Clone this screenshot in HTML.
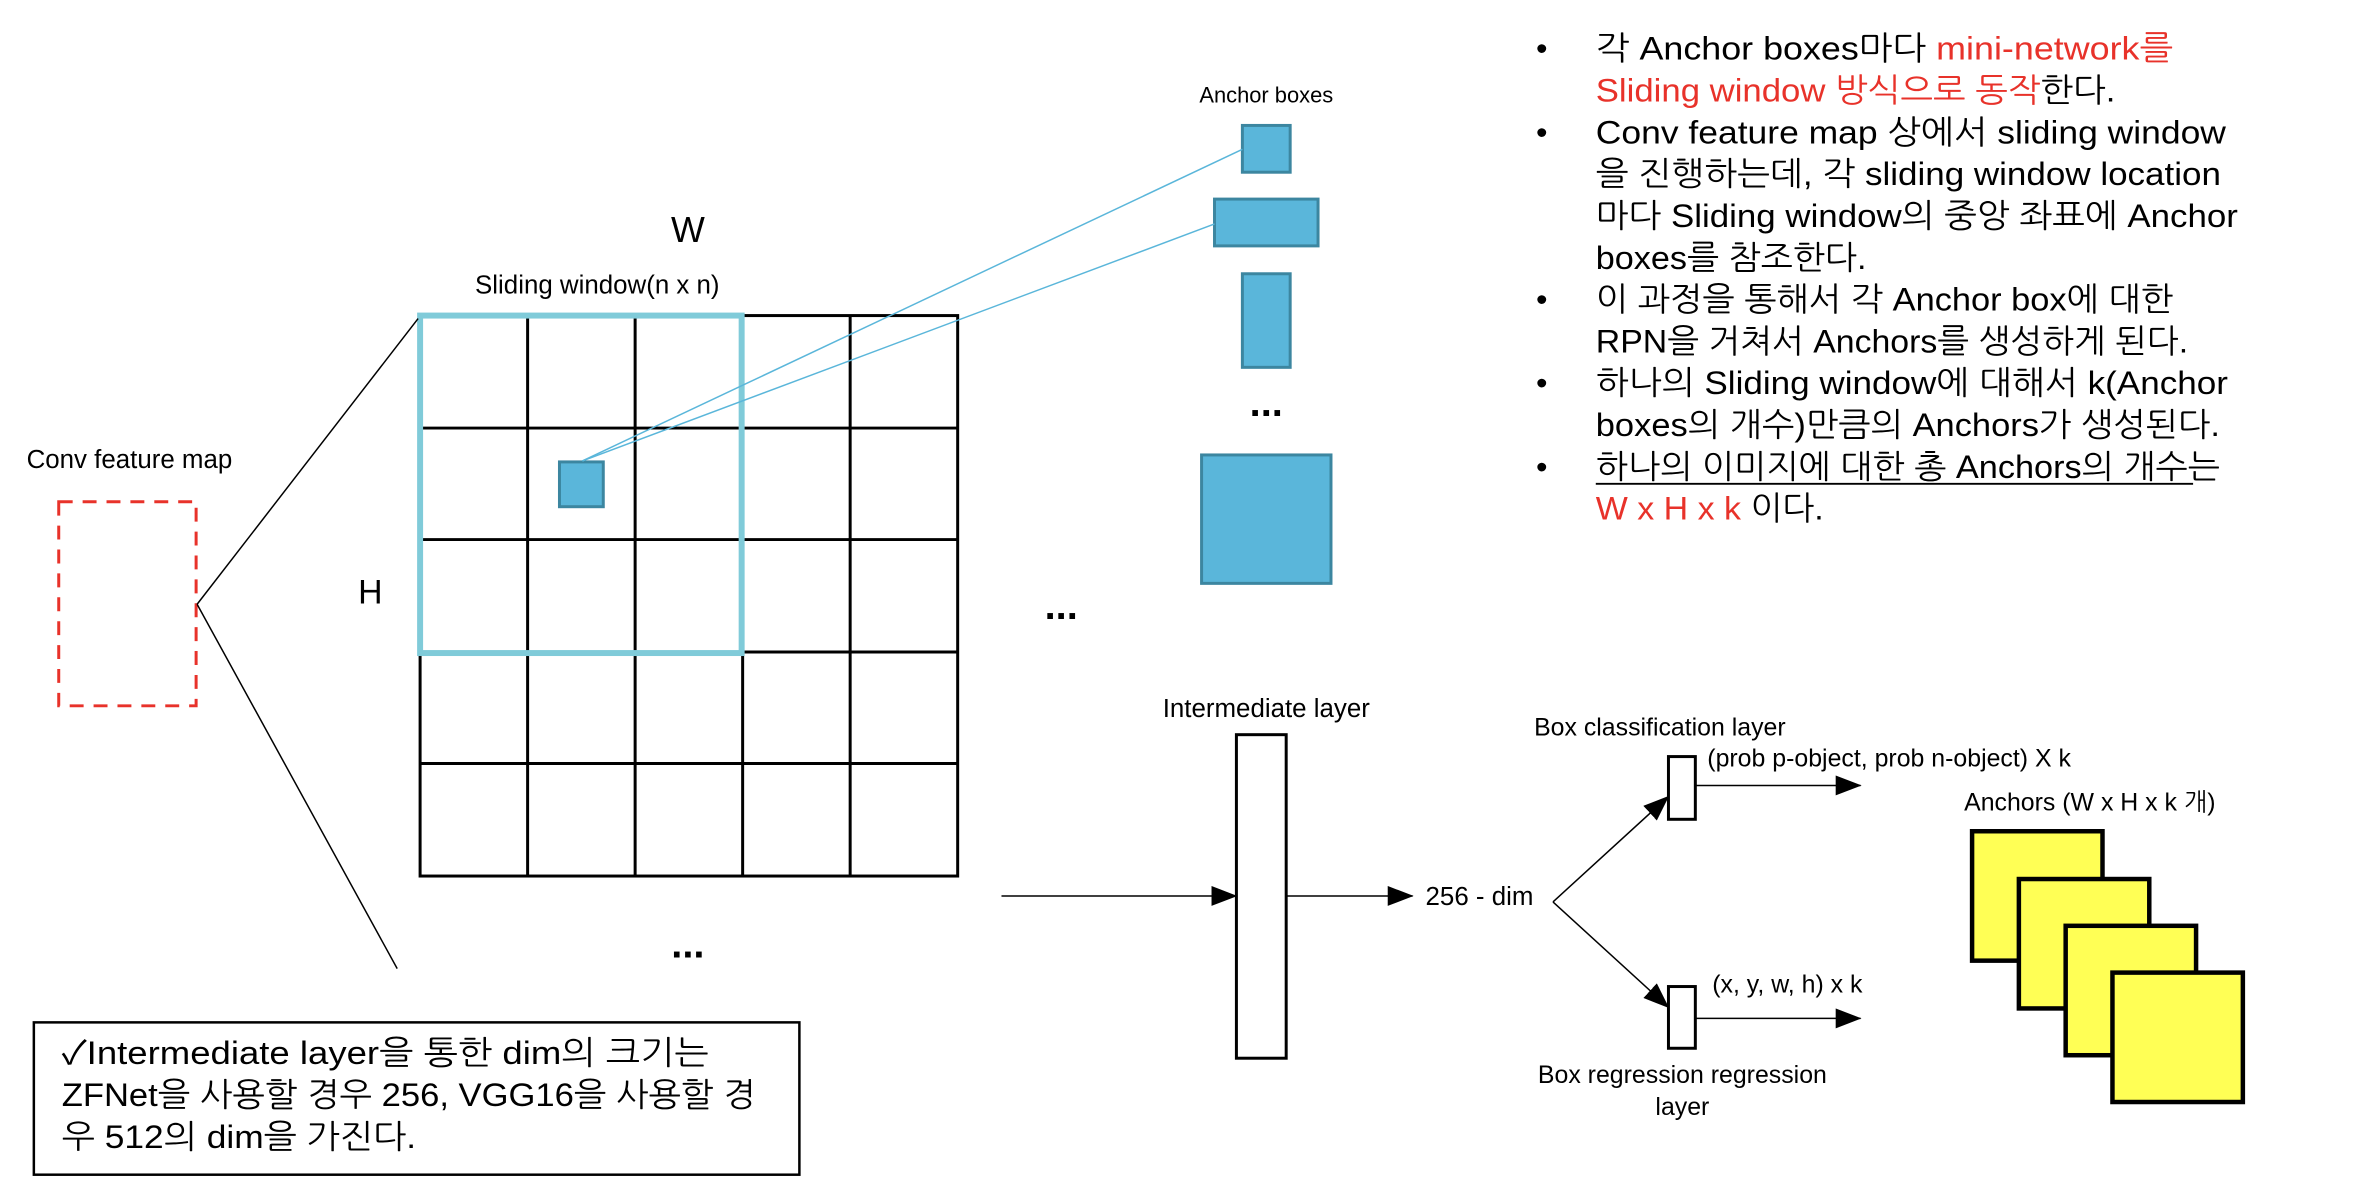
<!DOCTYPE html>
<html><head><meta charset="utf-8"><style>
html,body{margin:0;padding:0;background:#fff;}
svg{display:block;}
text{font-family:"Liberation Sans","NanumGothic","Noto Sans CJK KR",sans-serif;}
</style></head><body>
<svg width="2368" height="1186" viewBox="0 0 2368 1186" xmlns="http://www.w3.org/2000/svg">
<defs>
<marker id="ah" markerWidth="26" markerHeight="20" refX="25" refY="10" orient="auto" markerUnits="userSpaceOnUse" viewBox="0 0 26 20">
<path d="M0,0 L26,10 L0,20 z" fill="#000"/></marker>
</defs>
<g transform="scale(0.9955)">
<!-- bullet text -->
<g font-size="33" fill="#000">
<text x="1543" y="60">•</text>
<text x="1603" y="60" textLength="580" lengthAdjust="spacingAndGlyphs">각 Anchor boxes마다 <tspan fill="#e8322a">mini-network를</tspan></text>
<text x="1603" y="102" textLength="522" lengthAdjust="spacingAndGlyphs"><tspan fill="#e8322a">Sliding window 방식으로 동작</tspan>한다.</text>
<text x="1543" y="144">•</text>
<text x="1603" y="144" textLength="633" lengthAdjust="spacingAndGlyphs">Conv feature map 상에서 sliding window</text>
<text x="1603" y="186" textLength="628" lengthAdjust="spacingAndGlyphs">을 진행하는데, 각 sliding window location</text>
<text x="1603" y="228" textLength="645" lengthAdjust="spacingAndGlyphs">마다 Sliding window의 중앙 좌표에 Anchor</text>
<text x="1603" y="270" textLength="272" lengthAdjust="spacingAndGlyphs">boxes를 참조한다.</text>
<text x="1543" y="312">•</text>
<text x="1603" y="312" textLength="580" lengthAdjust="spacingAndGlyphs">이 과정을 통해서 각 Anchor box에 대한</text>
<text x="1603" y="354" textLength="595" lengthAdjust="spacingAndGlyphs">RPN을 거쳐서 Anchors를 생성하게 된다.</text>
<text x="1543" y="396">•</text>
<text x="1603" y="396" textLength="635" lengthAdjust="spacingAndGlyphs">하나의 Sliding window에 대해서 k(Anchor</text>
<text x="1603" y="438" textLength="627" lengthAdjust="spacingAndGlyphs">boxes의 개수)만큼의 Anchors가 생성된다.</text>
<text x="1543" y="480">•</text>
<text x="1603" y="480" textLength="627" lengthAdjust="spacingAndGlyphs">하나의 이미지에 대한 총 Anchors의 개수는</text>
<line x1="1603" y1="486" x2="2203" y2="486" stroke="#000" stroke-width="2"/>
<text x="1603" y="522" textLength="229" lengthAdjust="spacingAndGlyphs"><tspan fill="#e8322a">W x H x k</tspan> 이다.</text>
</g>

<!-- anchor boxes -->
<text x="1272" y="103" font-size="22" text-anchor="middle">Anchor boxes</text>
<g fill="#5ab6da" stroke="#3c86a0" stroke-width="3">
<rect x="1248" y="126" width="48" height="47"/>
<rect x="1220" y="200" width="104" height="47"/>
<rect x="1248" y="275" width="48" height="94"/>
<rect x="1207" y="457" width="130" height="129"/>
</g>
<text x="1272" y="418" font-size="40" font-weight="bold" text-anchor="middle">...</text>

<!-- grid -->
<g stroke="#000" stroke-width="3" fill="none">
<rect x="422" y="317" width="540" height="563"/>
<line x1="530" y1="317" x2="530" y2="880"/>
<line x1="638" y1="317" x2="638" y2="880"/>
<line x1="746" y1="317" x2="746" y2="880"/>
<line x1="854" y1="317" x2="854" y2="880"/>
<line x1="422" y1="430" x2="962" y2="430"/>
<line x1="422" y1="542" x2="962" y2="542"/>
<line x1="422" y1="655" x2="962" y2="655"/>
<line x1="422" y1="767" x2="962" y2="767"/>
</g>
<rect x="422" y="317" width="323" height="339" fill="none" stroke="#80cbd9" stroke-width="6"/>
<rect x="562" y="464" width="44" height="45" fill="#5ab6da" stroke="#3c86a0" stroke-width="3"/>
<line x1="585" y1="463" x2="1248" y2="150" stroke="#5ab6da" stroke-width="1.5"/>
<line x1="585" y1="463" x2="1220" y2="225" stroke="#5ab6da" stroke-width="1.5"/>
<text x="691" y="243" font-size="36" text-anchor="middle">W</text>
<text x="600" y="295" font-size="26" text-anchor="middle">Sliding window(n x n)</text>
<text x="372" y="606" font-size="34" text-anchor="middle">H</text>
<text x="1066" y="622" font-size="40" font-weight="bold" text-anchor="middle">...</text>
<text x="691" y="962" font-size="40" font-weight="bold" text-anchor="middle">...</text>

<!-- conv feature map -->
<text x="130" y="470" font-size="26" text-anchor="middle">Conv feature map</text>
<rect x="59" y="504" width="138" height="205" fill="none" stroke="#e8322a" stroke-width="3" stroke-dasharray="14,10"/>
<line x1="198" y1="607" x2="420" y2="320" stroke="#000" stroke-width="1.5"/>
<line x1="198" y1="607" x2="399" y2="973" stroke="#000" stroke-width="1.5"/>

<!-- note -->
<rect x="34" y="1027" width="769" height="153" fill="none" stroke="#000" stroke-width="2.5"/>
<g font-size="33">
<text x="62" y="1069" textLength="650" lengthAdjust="spacingAndGlyphs">✓Intermediate layer을 통한 dim의 크기는</text>
<text x="62" y="1111" textLength="697" lengthAdjust="spacingAndGlyphs">ZFNet을 사용할 경우 256, VGG16을 사용할 경</text>
<text x="62" y="1153" textLength="356" lengthAdjust="spacingAndGlyphs">우 512의 dim을 가진다.</text>
</g>

<!-- intermediate -->
<line x1="1006" y1="900" x2="1242" y2="900" stroke="#000" stroke-width="1.5" marker-end="url(#ah)"/>
<rect x="1242" y="738" width="50" height="325" fill="#fff" stroke="#000" stroke-width="3"/>
<text x="1272" y="720" font-size="26" text-anchor="middle">Intermediate layer</text>
<line x1="1292" y1="900" x2="1419" y2="900" stroke="#000" stroke-width="1.5" marker-end="url(#ah)"/>
<text x="1432" y="909" font-size="26">256 - dim</text>
<line x1="1560" y1="906" x2="1676" y2="800" stroke="#000" stroke-width="1.5" marker-end="url(#ah)"/>
<line x1="1560" y1="906" x2="1676" y2="1012" stroke="#000" stroke-width="1.5" marker-end="url(#ah)"/>
<rect x="1676" y="760" width="27" height="63" fill="#fff" stroke="#000" stroke-width="3"/>
<rect x="1676" y="991" width="27" height="62" fill="#fff" stroke="#000" stroke-width="3"/>
<line x1="1703" y1="789" x2="1869" y2="789" stroke="#000" stroke-width="1.5" marker-end="url(#ah)"/>
<line x1="1703" y1="1023" x2="1869" y2="1023" stroke="#000" stroke-width="1.5" marker-end="url(#ah)"/>
<text x="1541" y="739" font-size="25">Box classification  layer</text>
<text x="1715" y="770" font-size="25">(prob p-object, prob n-object) X k</text>
<text x="1720" y="997" font-size="25">(x, y, w, h) x k</text>
<text x="1690" y="1088" font-size="25" text-anchor="middle">Box regression regression</text>
<text x="1690" y="1120" font-size="25" text-anchor="middle">layer</text>
<text x="1973" y="814" font-size="25">Anchors (W x H x k 개)</text>
<g fill="#ffff55" stroke="#000" stroke-width="4.5">
<rect x="1981" y="835" width="131" height="130"/>
<rect x="2028" y="883" width="131" height="130"/>
<rect x="2075" y="930" width="131" height="130"/>
<rect x="2122" y="977" width="131" height="130"/>
</g>
</g>
</svg>
</body></html>
